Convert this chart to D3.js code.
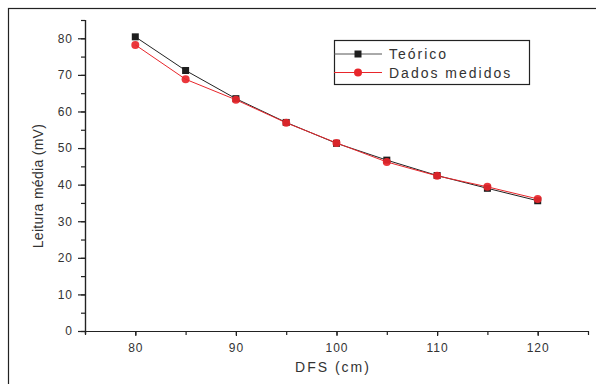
<!DOCTYPE html>
<html>
<head>
<meta charset="utf-8">
<script src="https://cdn.jsdelivr.net/npm/d3@7"></script>
<style>
  body { margin: 0; background: #fff; }
  text { font-family: "Liberation Sans", Arial, sans-serif; fill: #333; }
</style>
</head>
<body>
<svg id="plot" width="596" height="384"></svg>
<script>
// data
const dfs = [80, 85, 90, 95, 100, 105, 110, 115, 120];
const teorico = [80.4, 71.2, 63.5, 57.0, 51.3, 46.7, 42.5, 39.0, 35.6];
const medidos = [78.2, 68.8, 63.2, 56.9, 51.4, 46.2, 42.4, 39.4, 36.1];
const xTicks = [80, 90, 100, 110, 120];
const yTicks = [0, 10, 20, 30, 40, 50, 60, 70, 80];

const svg = d3.select("#plot");

// outer frame (runs off the right/bottom edge)
svg.append("rect")
  .attr("x", 8.5).attr("y", 8.5)
  .attr("width", 620).attr("height", 420)
  .attr("fill", "none").attr("stroke", "#222").attr("stroke-width", 1.2);

const x = d3.scaleLinear().domain([75, 125]).range([85, 588]);
const y = d3.scaleLinear().domain([0, 85]).range([331, 20]);

// x axis
const gx = svg.append("g").attr("transform", "translate(0,331)");
gx.call(d3.axisBottom(x).tickValues(d3.range(75, 126, 5)).tickSize(4).tickFormat(""))
gx.append("g").call(d3.axisBottom(x).tickValues(xTicks).tickSize(5).tickPadding(7).tickFormat(d3.format("d")));
gx.selectAll("path, line").attr("stroke", "#222").attr("stroke-width", 1.2);
gx.selectAll("path").attr("d", "M85,0.5H588");
gx.selectAll("text")
  .attr("font-size", "12px").attr("letter-spacing", "1px")
  .attr("fill", "#333").attr("font-family", "Liberation Sans, Arial, sans-serif");

// y axis
const gy = svg.append("g").attr("transform", "translate(85,0)");
gy.call(d3.axisLeft(y).tickValues(d3.range(0, 86, 5)).tickSize(4).tickFormat(""));
gy.append("g").call(d3.axisLeft(y).tickValues(yTicks).tickSize(7).tickPadding(5).tickFormat(d3.format("d")));
gy.selectAll("path, line").attr("stroke", "#222").attr("stroke-width", 1.2);
gy.selectAll("path").attr("d", "M0.5,20V334");
gy.selectAll("text")
  .attr("font-size", "12px").attr("letter-spacing", "1px")
  .attr("fill", "#333").attr("font-family", "Liberation Sans, Arial, sans-serif");

// axis titles
svg.append("text")
  .attr("x", 333).attr("y", 372)
  .attr("text-anchor", "middle")
  .attr("font-size", "14px").attr("letter-spacing", "2px")
  .text("DFS (cm)");

svg.append("text")
  .attr("transform", "translate(43,186) rotate(-90)")
  .attr("text-anchor", "middle")
  .attr("font-size", "14px").attr("letter-spacing", "0.3px")
  .text("Leitura média (mV)");

// series
const line = d3.line().x(d => x(d[0])).y(d => y(d[1]));
const tData = dfs.map((d, i) => [d, teorico[i]]);
const mData = dfs.map((d, i) => [d, medidos[i]]);

svg.append("path").datum(tData)
  .attr("d", line).attr("fill", "none").attr("stroke", "#222").attr("stroke-width", 1);
svg.append("path").datum(mData)
  .attr("d", line).attr("fill", "none").attr("stroke", "#e8262b").attr("stroke-width", 1);

svg.selectAll(".sq").data(tData).enter().append("rect")
  .attr("x", d => x(d[0]) - 3.5).attr("y", d => y(d[1]) - 3.5)
  .attr("width", 7).attr("height", 7)
  .attr("fill", "#1e1e1e");

svg.selectAll(".ci").data(mData).enter().append("circle")
  .attr("cx", d => x(d[0])).attr("cy", d => y(d[1]))
  .attr("r", 4)
  .attr("fill", "#e8262b")
  .attr("fill-opacity", 0.92);

// legend
const lg = svg.append("g");
lg.append("rect")
  .attr("x", 334.5).attr("y", 40.5).attr("width", 195).attr("height", 44)
  .attr("fill", "#fff").attr("stroke", "#222").attr("stroke-width", 1.2);

const legendItems = [
  { name: "Teórico", color: "#222", shape: "square" },
  { name: "Dados medidos", color: "#e8262b", shape: "circle" }
];
legendItems.forEach((it, i) => {
  const yy = 54 + i * 18.5;
  lg.append("line")
    .attr("x1", 334).attr("x2", 382).attr("y1", yy).attr("y2", yy)
    .attr("stroke", it.shape === "square" ? "#555" : it.color).attr("stroke-width", 1);
  if (it.shape === "square") {
    lg.append("rect").attr("x", 354.5).attr("y", yy - 3.5).attr("width", 7).attr("height", 7).attr("fill", "#1e1e1e");
  } else {
    lg.append("circle").attr("cx", 358).attr("cy", yy).attr("r", 4).attr("fill", it.color);
  }
  lg.append("text")
    .attr("x", 389).attr("y", yy + 5)
    .attr("font-size", "14px").attr("letter-spacing", "2px")
    .text(it.name);
});
</script>
</body>
</html>
